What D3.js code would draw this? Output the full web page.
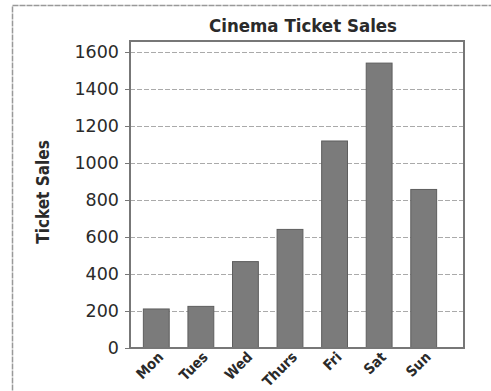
<!DOCTYPE html>
<html>
<head>
<meta charset="utf-8">
<script src="https://cdnjs.cloudflare.com/ajax/libs/d3/7.8.5/d3.min.js"></script>
<style>
  body { margin: 0; background: #fff; }
</style>
</head>
<body>
<div id="chart"></div>
<script>
!(function () {
  'use strict';

  // data
  const days = ['Mon', 'Tues', 'Wed', 'Thurs', 'Fri', 'Sat', 'Sun'];
  const sales = [211, 225, 467, 641, 1119, 1540, 857];
  const yTicks = [0, 200, 400, 600, 800, 1000, 1200, 1400, 1600];

  const W = 491, H = 391;
  const plot = { left: 130, right: 464, top: 41, bottom: 348 };
  const font = '"DejaVu Sans", Verdana, sans-serif';
  const fontC = '"DejaVu Sans Condensed", "DejaVu Sans", sans-serif';

  const svg = d3.select('#chart').append('svg')
    .attr('width', W)
    .attr('height', H);

  // outer frame
  svg.append('rect')
    .attr('x', 12.5).attr('y', 5.5)
    .attr('width', W).attr('height', H)
    .attr('fill', 'none')
    .attr('stroke', '#999')
    .attr('stroke-width', 1.5)
    .attr('stroke-dasharray', '6,1');

  const x = d3.scaleBand()
    .domain(days)
    .range([134, 446])
    .paddingInner(0.42)
    .paddingOuter(0.21);

  const y = d3.scaleLinear()
    .domain([0, 1600])
    .range([348, 52]);

  // grid
  svg.append('g')
    .selectAll('line')
    .data(yTicks.slice(1))
    .enter()
    .append('line')
    .attr('x1', plot.left).attr('x2', plot.right)
    .attr('y1', d => y(d) + 0.5).attr('y2', d => y(d) + 0.5)
    .attr('stroke', '#aaa')
    .attr('stroke-width', 1)
    .attr('stroke-dasharray', '5,2');

  // bars
  svg.append('g')
    .selectAll('rect')
    .data(days)
    .enter()
    .append('rect')
    .attr('x', d => x(d))
    .attr('y', (d, i) => y(sales[i]))
    .attr('width', x.bandwidth())
    .attr('height', (d, i) => y(0) - y(sales[i]))
    .attr('fill', '#7b7b7b')
    .attr('stroke', '#5e5e5e')
    .attr('stroke-width', 1);

  // plot frame
  svg.append('rect')
    .attr('x', plot.left).attr('y', plot.top)
    .attr('width', plot.right - plot.left)
    .attr('height', plot.bottom - plot.top)
    .attr('fill', 'none')
    .attr('stroke', '#777')
    .attr('stroke-width', 2);

  // y axis
  const yAxis = svg.append('g')
    .attr('transform', 'translate(' + plot.left + ',0)')
    .call(d3.axisLeft(y).tickValues(yTicks).tickFormat(d3.format('d')).tickSize(5).tickPadding(6));
  yAxis.select('.domain').remove();
  yAxis.selectAll('line').attr('stroke', '#777');
  yAxis.selectAll('text')
    .attr('font-family', font)
    .attr('font-size', 17.5)
    .attr('fill', '#2a2a2a');

  // x axis
  const xAxis = svg.append('g')
    .attr('transform', 'translate(0,' + plot.bottom + ')')
    .call(d3.axisBottom(x).tickSize(0).tickPadding(0));
  xAxis.select('.domain').remove();
  xAxis.selectAll('text')
    .attr('font-family', fontC)
    .attr('font-weight', 'bold')
    .attr('font-size', 14.5)
    .attr('fill', '#2a2a2a')
    .attr('text-anchor', 'end')
    .attr('dy', 0)
    .attr('transform', 'translate(8,10) rotate(-45)');

  // title
  svg.append('text')
    .attr('x', 303).attr('y', 32)
    .attr('text-anchor', 'middle')
    .attr('font-family', fontC)
    .attr('font-weight', 'bold')
    .attr('font-size', 18.5)
    .attr('fill', '#2a2a2a')
    .text('Cinema Ticket Sales');

  // y label
  svg.append('text')
    .attr('transform', 'translate(49,192) rotate(-90)')
    .attr('text-anchor', 'middle')
    .attr('font-family', fontC)
    .attr('font-weight', 'bold')
    .attr('font-size', 17)
    .attr('fill', '#2a2a2a')
    .text('Ticket Sales');
}());
</script>
</body>
</html>
